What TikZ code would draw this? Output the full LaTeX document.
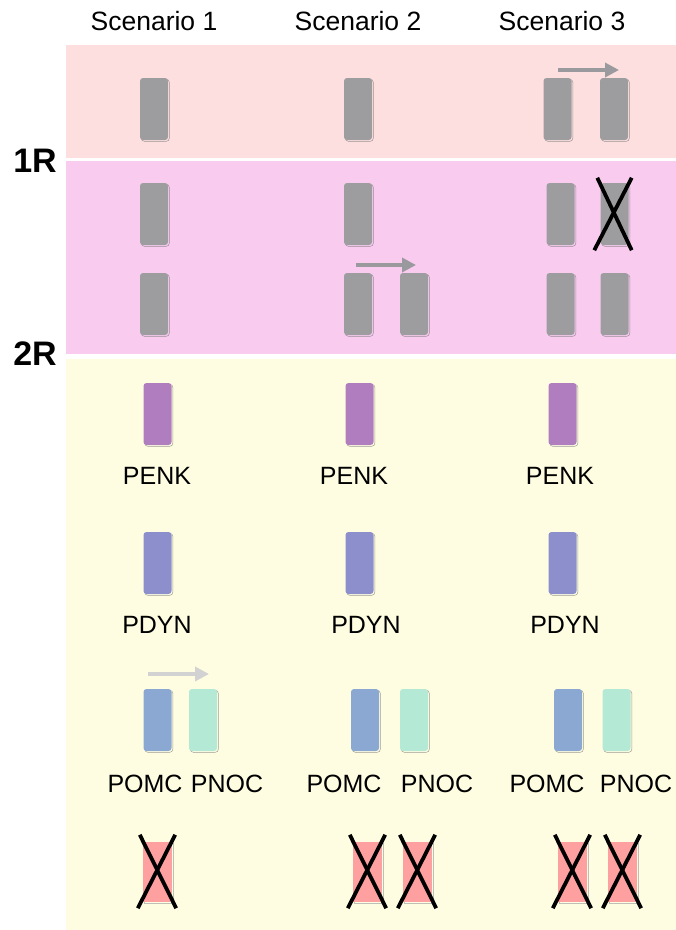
\documentclass[tikz,border=0pt]{standalone}
\usepackage{fontspec}
\setmainfont{Liberation Sans}
\usetikzlibrary{arrows.meta,shadows}
\definecolor{bandA}{HTML}{FDDFDF}
\definecolor{bandB}{HTML}{F8CBEF}
\definecolor{bandC}{HTML}{FEFDE1}
\definecolor{grayfill}{HTML}{9D9DA0}
\definecolor{penkc}{HTML}{B07EBE}
\definecolor{pdync}{HTML}{8C8FCC}
\definecolor{pomcc}{HTML}{8AA8D2}
\definecolor{pnocc}{HTML}{B4E9D6}
\definecolor{redc}{HTML}{FFA0A0}
\definecolor{arrowgray}{HTML}{9A9A9E}
\definecolor{arrowlight}{HTML}{D2D2D2}
\begin{document}
\begin{tikzpicture}[x=1pt,y=-1pt,
  gene/.style={rectangle, rounded corners=3pt, minimum width=28pt, minimum height=62pt, inner sep=0pt, fill=#1,
    drop shadow={shadow xshift=1.3pt,shadow yshift=-1.3pt,fill=none,draw=black!55,line width=0.5pt,opacity=0.7}},
  redgene/.style={rectangle, minimum width=29pt, minimum height=60pt, inner sep=0pt, fill=redc,
    drop shadow={shadow xshift=1.3pt,shadow yshift=-1.3pt,fill=none,draw=black!35,line width=0.6pt,opacity=0.7}},
  lbl/.style={font=\fontsize{25}{30}\selectfont, inner sep=0pt, anchor=center},
  hdr/.style={font=\fontsize{26.5}{32}\selectfont, inner sep=0pt, anchor=center},
  rowlbl/.style={font=\fontsize{34}{40}\selectfont\bfseries, inner sep=0pt},
  cross/.style={line width=3.8pt, black},
  garrow/.style={line width=4pt, draw=arrowgray, -{Triangle[length=14pt,width=14pt]}},
  larrow/.style={line width=4pt, draw=arrowlight, -{Triangle[length=14pt,width=14pt]}}
]
\useasboundingbox (0,0) rectangle (676,930);
\fill[white] (0,0) rectangle (676,930);
% bands
\fill[bandA] (66,45) rectangle (676,158);
\fill[bandB] (66,161) rectangle (676,354);
\fill[bandC] (66,359) rectangle (676,930);

% headers
\node[hdr] (h1) at (154,21) {Scenario 1};
\node[hdr] (h2) at (358,21) {Scenario 2};
\node[hdr] (h3) at (562,21) {Scenario 3};
\node[rowlbl] (r1) at (35,161) {1R};
\node[rowlbl] (r2) at (35,354) {2R};

% row A (pink)
\node[gene=grayfill] (a1) at (154,109) {};
\node[gene=grayfill] (a2) at (358,109) {};
\node[gene=grayfill] (a3) at (557.5,109) {};
\node[gene=grayfill] (a4) at (614,109) {};
\coordinate (arA1) at (558,70);
\coordinate (arA2) at (619,70);
\draw[garrow] (arA1) -- (arA2);

% row B
\node[gene=grayfill] (b1) at (154,214) {};
\node[gene=grayfill] (b2) at (358,214) {};
\node[gene=grayfill] (b3) at (560.5,214) {};
\node[gene=grayfill] (b4) at (614.5,214) {};
\draw[cross] ([shift={(-3,-5)}]b4.north west) -- ([shift={(3,5)}]b4.south east);
\draw[cross] ([shift={(3,-5)}]b4.north east) -- ([shift={(-6,5)}]b4.south west);

% row C
\node[gene=grayfill] (c1) at (154,304) {};
\node[gene=grayfill] (c2) at (358,304) {};
\node[gene=grayfill] (c3) at (414,304) {};
\node[gene=grayfill] (c4) at (560.5,304) {};
\node[gene=grayfill] (c5) at (614.5,304) {};
\coordinate (arC1) at (356,265);
\coordinate (arC2) at (416,265);
\draw[garrow] (arC1) -- (arC2);

% PENK row
\node[gene=penkc] (p1) at (157.5,414) {};
\node[gene=penkc] (p2) at (359.5,414) {};
\node[gene=penkc] (p3) at (562.5,414) {};
\node[lbl] (pl1) at (157,476) {PENK};
\node[lbl] (pl2) at (354,476) {PENK};
\node[lbl] (pl3) at (560,476) {PENK};

% PDYN row
\node[gene=pdync] (d1) at (157.5,563) {};
\node[gene=pdync] (d2) at (359.5,563) {};
\node[gene=pdync] (d3) at (562.5,563) {};
\node[lbl] (dl1) at (157,625) {PDYN};
\node[lbl] (dl2) at (366,625) {PDYN};
\node[lbl] (dl3) at (565,625) {PDYN};

% POMC / PNOC row
\node[gene=pomcc] (m1) at (157.5,720) {};
\node[gene=pnocc] (n1) at (203,720) {};
\node[gene=pomcc] (m2) at (365,720) {};
\node[gene=pnocc] (n2) at (414,720) {};
\node[gene=pomcc] (m3) at (568,720) {};
\node[gene=pnocc] (n3) at (616.5,720) {};
\coordinate (arP1) at (148,674);
\coordinate (arP2) at (209,674);
\draw[larrow] (arP1) -- (arP2);
\node[lbl] (ml1) at (145,784) {POMC};
\node[lbl] (nl1) at (227,784) {PNOC};
\node[lbl] (ml2) at (344,784) {POMC};
\node[lbl] (nl2) at (437,784) {PNOC};
\node[lbl] (ml3) at (547,784) {POMC};
\node[lbl] (nl3) at (636,784) {PNOC};

% red crossed row
\node[redgene] (x1) at (157.5,872) {};
\node[redgene] (x2) at (367.5,872) {};
\node[redgene] (x3) at (417.5,872) {};
\node[redgene] (x4) at (572.5,872) {};
\node[redgene] (x5) at (622.5,872) {};
\foreach \n in {x1,x2,x3,x4,x5}{
  \draw[cross] ([shift={(-3,-7)}]\n.north west) -- ([shift={(4,6)}]\n.south east);
  \draw[cross] ([shift={(3,-7)}]\n.north east) -- ([shift={(-5,6)}]\n.south west);
}
\end{tikzpicture}
\end{document}
